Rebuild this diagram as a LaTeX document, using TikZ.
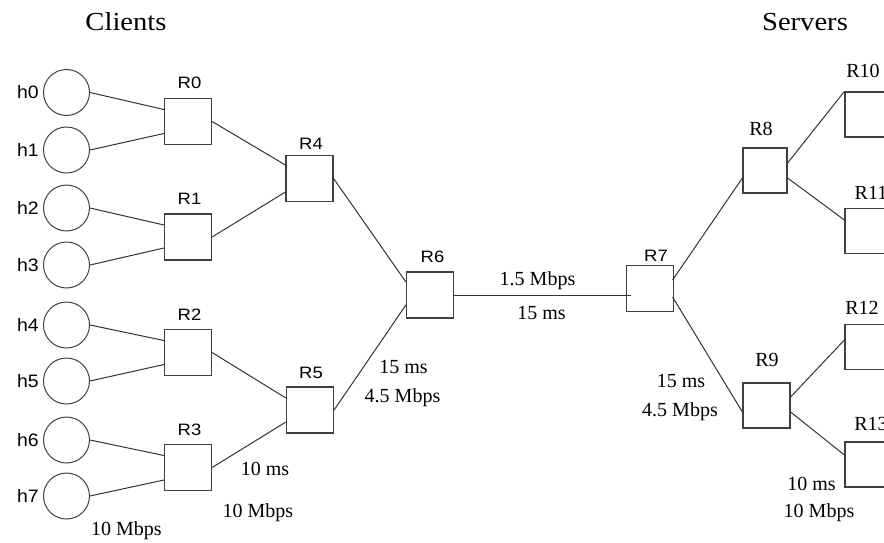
\documentclass[tikz,border=0pt]{standalone}
\usepackage{fontspec}
\setmainfont{Liberation Serif}
\newfontfamily\hsans[FakeStretch=1.08]{Liberation Sans}
\newfontfamily\rsans[FakeStretch=1.12]{Liberation Sans}
\newfontfamily\titlefont[FakeStretch=1.1]{Liberation Serif}
\begin{document}
\begin{tikzpicture}[x=1pt,y=-1pt,
  host/.style={circle, draw=black!75, line width=1pt, minimum size=46pt, inner sep=0pt},
  router/.style={rectangle, draw=black!75, line width=1.2pt, minimum width=47pt, minimum height=46pt, inner sep=0pt},
  link/.style={draw=black!80, line width=1pt},
  hlab/.style={font=\hsans\fontsize{18}{22}\selectfont, inner sep=0pt, anchor=east},
  rlab/.style={font=\rsans\fontsize{16.5}{20}\selectfont, inner sep=0pt},
  slab/.style={font=\fontsize{20}{24}\selectfont, inner sep=0pt},
  note/.style={font=\fontsize{20}{24}\selectfont, inner sep=0pt, anchor=base},
  ttl/.style={font=\titlefont\fontsize{26}{30}\selectfont, inner sep=0pt, anchor=base}]
\useasboundingbox (0,0) rectangle (884,542);
\clip (0,0) rectangle (884,542);

% titles
\node[ttl] (tclients) at (126,30) {Clients};
\node[ttl] (tservers) at (805,30) {Servers};

% hosts
\node[host] (h0) at (66.5,92.5) {};
\node[host] (h1) at (66.5,150) {};
\node[host] (h2) at (66.5,208) {};
\node[host] (h3) at (66.5,265) {};
\node[host] (h4) at (66.5,325) {};
\node[host] (h5) at (66.5,381) {};
\node[host] (h6) at (66.5,440) {};
\node[host] (h7) at (66.5,496) {};
\node[hlab] (lh0) at (39,92) {h0};
\node[hlab] (lh1) at (39,150) {h1};
\node[hlab] (lh2) at (39,208) {h2};
\node[hlab] (lh3) at (39,265) {h3};
\node[hlab] (lh4) at (39,325) {h4};
\node[hlab] (lh5) at (39,381) {h5};
\node[hlab] (lh6) at (39,440) {h6};
\node[hlab] (lh7) at (39,496) {h7};

% routers, left side
\node[router] (R0) at (188,121.5) {};
\node[router] (R1) at (188,237) {};
\node[router] (R2) at (188,352.5) {};
\node[router] (R3) at (188,467.5) {};
\node[router] (R4) at (309.5,178.5) {};
\node[router] (R5) at (310,410) {};
\node[router] (R6) at (430,295) {};
\node[router] (R7) at (650,288.5) {};
\node[rlab] (lR0) at (189.5,83) {R0};
\node[rlab] (lR1) at (189.5,199) {R1};
\node[rlab] (lR2) at (189.5,314.5) {R2};
\node[rlab] (lR3) at (189.5,429.5) {R3};
\node[rlab] (lR4) at (311,143.5) {R4};
\node[rlab] (lR5) at (311,373) {R5};
\node[rlab] (lR6) at (432.5,256.5) {R6};
\node[rlab] (lR7) at (656,256) {R7};

% routers, right side
\node[router, minimum width=44pt, minimum height=45pt] (R8) at (765,170.5) {};
\node[router, minimum height=45pt] (R9) at (766.5,405.5) {};
\node[router, minimum height=45pt] (R10) at (868.5,114.5) {};
\node[router, minimum height=45pt] (R11) at (868.5,231) {};
\node[router, minimum height=45pt] (R12) at (868.5,347) {};
\node[router, minimum height=45pt] (R13) at (868.5,464.5) {};
\node[slab] (lR8) at (761,129) {R8};
\node[slab] (lR9) at (767,360) {R9};
\node[slab] (lR10) at (863,71) {R10};
\node[slab] (lR11) at (871,192.5) {R11};
\node[slab] (lR12) at (862,307.5) {R12};
\node[slab] (lR13) at (871,424) {R13};

% host links
\draw[link] (h0.east) -- ([yshift=12pt]R0.west);
\draw[link] (h1.east) -- ([yshift=-12pt]R0.west);
\draw[link] (h2.east) -- ([yshift=12pt]R1.west);
\draw[link] (h3.east) -- ([yshift=-11pt]R1.west);
\draw[link] (h4.east) -- ([yshift=12pt]R2.west);
\draw[link] (h5.east) -- ([yshift=-12pt]R2.west);
\draw[link] (h6.east) -- ([yshift=12pt]R3.west);
\draw[link] (h7.east) -- ([yshift=-12.5pt]R3.west);

% router links
\draw[link] (R0.east) -- ([yshift=13.5pt]R4.west);
\draw[link] (R1.east) -- ([yshift=-13.5pt]R4.west);
\draw[link] (R2.east) -- ([yshift=12pt]R5.west);
\draw[link] (R3.east) -- ([yshift=-12pt]R5.west);
\draw[link] (R4.east) -- ([yshift=13pt]R6.west);
\draw[link] (R5.east) -- ([yshift=-10pt]R6.west);
\draw[link] (R6.east) -- ([xshift=5pt,yshift=-6.5pt]R7.west);
\draw[link] ([xshift=-1.5pt,yshift=8.5pt]R7.east) -- ([yshift=-7.5pt]R8.west);
\draw[link] ([xshift=-1.5pt,yshift=-8.5pt]R7.east) -- ([yshift=-6.5pt]R9.west);
\draw[link] ([yshift=7.5pt]R8.east) -- (R10.north west);
\draw[link] ([yshift=-7.5pt]R8.east) -- ([yshift=11pt]R11.west);
\draw[link] ([yshift=8.5pt]R9.east) -- ([yshift=7pt]R12.west);
\draw[link] ([yshift=-6.5pt]R9.east) -- ([yshift=9.5pt]R13.west);

% link annotations
\node[note] (n1) at (126.5,535) {10 Mbps};
\node[note] (n2) at (265,475) {10 ms};
\node[note] (n3) at (258,517) {10 Mbps};
\node[note] (n4) at (403.5,373) {15 ms};
\node[note] (n5) at (402.5,402) {4.5 Mbps};
\node[note] (n6) at (537.5,285) {1.5 Mbps};
\node[note] (n7) at (541.5,319) {15 ms};
\node[note] (n8) at (681,387) {15 ms};
\node[note] (n9) at (680,416) {4.5 Mbps};
\node[note] (n10) at (811.5,490) {10 ms};
\node[note] (n11) at (819,517) {10 Mbps};
\end{tikzpicture}
\end{document}
